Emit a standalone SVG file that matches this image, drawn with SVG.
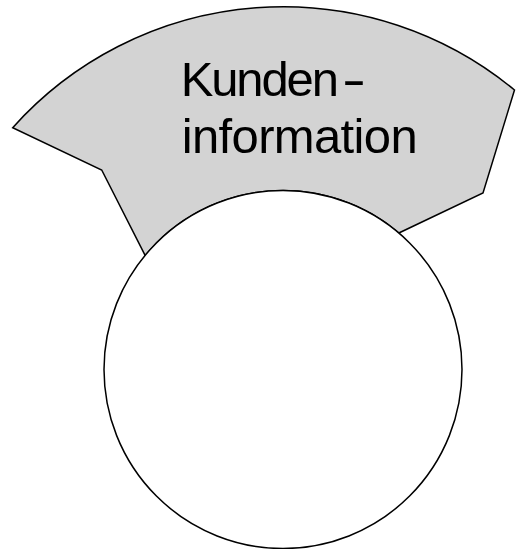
<svg xmlns="http://www.w3.org/2000/svg" width="517" height="549" viewBox="0 0 517 549">
<style>
.shape{stroke:#000;stroke-width:1.5;stroke-linejoin:miter}
.lbl{font-family:"Liberation Sans",Arial,sans-serif;font-size:49px;fill:#000}
</style>
<rect width="517" height="549" fill="#fff"/>
<g id="kundeninformation">
<path class="shape" fill="#d3d3d3" d="M12.7,127.7 A363,363 0 0 1 514.5,90 L483,193 L398.8,233 A179,179 0 0 0 145.1,255.4 L101.7,170 Z"/>
<text class="lbl" x="180.7" y="96"><tspan textLength="158.3">Kunden</tspan><tspan x="342" textLength="24" lengthAdjust="spacingAndGlyphs">-</tspan></text>
<text class="lbl" x="181.7" y="152.5" textLength="236">information</text>
</g>
<g id="circle">
<circle class="shape" fill="#fff" cx="283" cy="369.5" r="179"/>
</g>
</svg>
